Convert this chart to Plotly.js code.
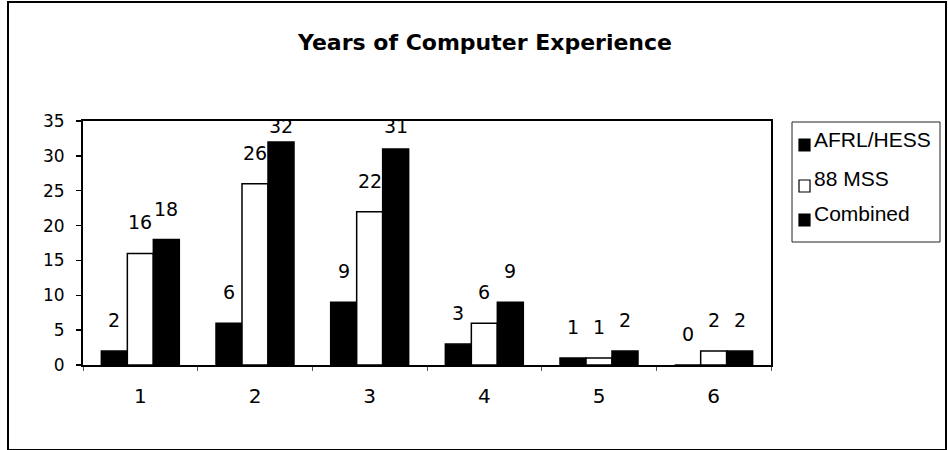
<!DOCTYPE html>
<html>
<head>
<meta charset="utf-8">
<script src="https://cdn.plot.ly/plotly-3.0.1.min.js"></script>
<style>
html,body{margin:0;padding:0;background:#fff;}
#wrap{position:relative;width:948px;height:450px;overflow:hidden;}
#chart{width:948px;height:450px;}
#frame{position:absolute;left:7px;top:1px;width:936px;height:446px;border:2px solid #000;pointer-events:none;}
</style>
</head>
<body>
<div id="wrap"><div id="chart"></div><div id="frame"></div></div>
<script>
const categories = ['1', '2', '3', '4', '5', '6'];
const afrlHess = [2, 6, 9, 3, 1, 0];
const mss88 = [16, 26, 22, 6, 1, 2];
const combined = [18, 32, 31, 9, 2, 2];
const seriesNames = ['AFRL/HESS', '88 MSS', 'Combined'];
const seriesValues = [afrlHess, mss88, combined];
const seriesFills = ['#000', '#fff', '#000'];

// ---- layout geometry (pixels) ----
const W = 948, H = 450;
const M = {l: 83, r: 177, t: 121, b: 85};
const PW = W - M.l - M.r, PH = H - M.t - M.b;
const Y_MAX = 35;
const px = v => (v - M.l) / PW;          // pixel x -> paper x
const py = v => (H - M.b - v) / PH;      // pixel y -> paper y

const numFont = {family: 'DejaVu Sans, sans-serif', color: '#000'};
const txtFont = {family: 'Liberation Sans, Arial, sans-serif', color: '#000'};

const data = seriesNames.map((name, i) => ({
  type: 'bar', name: name, x: categories, y: seriesValues[i],
  marker: {color: seriesFills[i], line: {color: '#000', width: 1.5}},
  hoverinfo: 'none', showlegend: false
}));

// value labels above bars (x given as category index on the category axis);
// labels that would rise above the plot top are pushed down to stay inside it
const barShift = [-26, 0, 26];
const LABEL_GAP = 18;       // normal lift above bar top
const LABEL_TOP_ROOM = 24;  // min room (px) kept between plot top and label box bottom
const annotations = [];
seriesValues.forEach((vals, i) => {
  vals.forEach((v, j) => {
    const room = PH - v / Y_MAX * PH;   // pixels between bar top and plot top
    const shift = Math.min(LABEL_GAP, Math.max(0, room + 6 - LABEL_TOP_ROOM));
    annotations.push({
      x: j, y: v, xref: 'x', yref: 'y',
      text: String(v), showarrow: false,
      xanchor: 'center', yanchor: 'bottom',
      xshift: barShift[i], yshift: shift,
      font: Object.assign({}, numFont, {size: 19})
    });
  });
});

// custom legend
const shapes = [{
  type: 'rect', xref: 'paper', yref: 'paper',
  x0: px(792), x1: px(940), y0: py(242), y1: py(122),
  line: {color: '#222', width: 1}, fillcolor: '#fff', layer: 'below'
}];
const legRowsText = [139, 178, 213];
const legRowsBox = [145, 186, 220];
seriesNames.forEach((name, i) => {
  shapes.push({
    type: 'rect', xref: 'paper', yref: 'paper',
    x0: px(799), x1: px(810), y0: py(legRowsBox[i] + 6), y1: py(legRowsBox[i] - 6),
    line: {color: '#000', width: 1.2}, fillcolor: seriesFills[i]
  });
  annotations.push({
    xref: 'paper', yref: 'paper', x: px(812), y: py(legRowsText[i]),
    xanchor: 'left', yanchor: 'middle', text: name, showarrow: false,
    font: Object.assign({}, txtFont, {size: 21})
  });
});

const layout = {
  width: W, height: H,
  margin: M,
  paper_bgcolor: '#fff', plot_bgcolor: '#fff',
  font: Object.assign({}, txtFont, {size: 16}),
  title: {text: '<b>Years of Computer Experience</b>', xref: 'container', x: 485 / W, xanchor: 'center',
          yref: 'container', y: 1 - 42 / H, yanchor: 'middle',
          font: {family: 'DejaVu Sans, sans-serif', color: '#000', size: 22}},
  barmode: 'group', bargap: 0.32, bargroupgap: 0,
  showlegend: false,
  annotations: annotations,
  shapes: shapes,
  xaxis: {type: 'category', range: [-0.5, categories.length - 0.5],
          showline: true, linecolor: '#000', linewidth: 2, mirror: true,
          ticks: 'outside', tickson: 'boundaries', ticklen: 4, tickcolor: '#555', tickwidth: 1,
          ticklabelstandoff: 12,
          showgrid: false, zeroline: false, tickfont: Object.assign({}, numFont, {size: 20})},
  yaxis: {range: [0, Y_MAX], dtick: 5, showline: true, linecolor: '#000', linewidth: 2, mirror: true,
          ticks: 'outside', ticklen: 5, tickcolor: '#000', tickwidth: 1.5, ticklabelstandoff: 8,
          showgrid: false, zeroline: false,
          tickfont: Object.assign({}, numFont, {size: 17})}
};
Plotly.newPlot('chart', data, layout, {staticPlot: true, displayModeBar: false});
</script>
</body>
</html>
